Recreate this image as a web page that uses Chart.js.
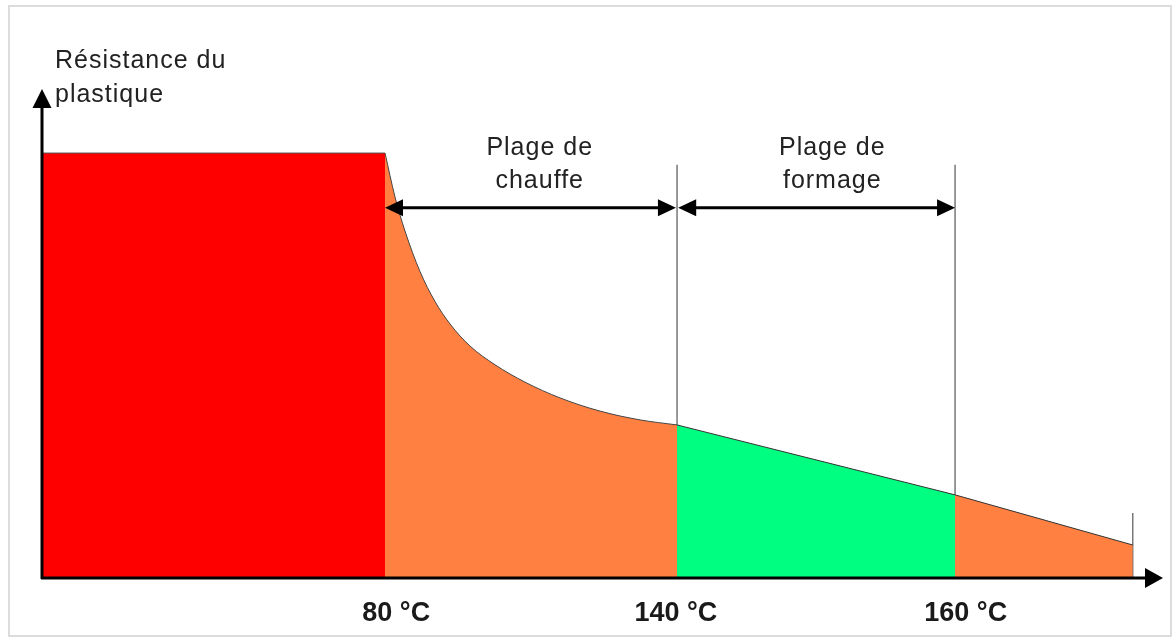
<!DOCTYPE html>
<html>
<head>
<meta charset="utf-8">
<script src="https://cdn.jsdelivr.net/npm/chart.js@4/dist/chart.umd.min.js"></script>
<style>
  html, body { margin: 0; padding: 0; background: #fff; }
  #wrap { width: 1176px; height: 641px; position: relative; }
</style>
</head>
<body>
<div id="wrap"><canvas id="c"></canvas></div>
<script>
// ---- data (abstract units: x 0..100 along the axis, y 0..100 resistance) ----
const redX = [0, 30.6];
const redY = [86.9, 86.9];
const heatX = [30.6, 31.49, 32.38, 33.72, 35.06, 36.40, 38.18, 40.41, 43.09, 46.21, 49.78, 53.35, 56.65];
const heatY = [86.9, 77.91, 70.96, 62.68, 56.54, 51.94, 47.44, 43.61, 40.05, 36.83, 34.13, 32.33, 31.3];
const formX = [56.65, 81.45];
const formY = [31.3, 17.0];
const tailX = [81.45, 97.3];
const tailY = [17.0, 6.75];
const markerX = [56.65, 81.45, 97.3];
const markerTop = [84.5, 84.5, 13.3];
const tickValues = [31.6, 56.55, 82.4];
const tickLabels = ['80 °C', '140 °C', '160 °C'];
const rangeFrom = [30.6, 56.75];
const rangeTo = [56.55, 81.45];
const rangeY = 75.7;
const rangeLabelX = [44.4, 70.5];
const rangeLabels = [['Plage de', 'chauffe'], ['Plage de', 'formage']];
const yAxisTitle = ['Résistance du', 'plastique'];

const pts = (xs, ys) => xs.map((x, i) => ({ x: x, y: ys[i] }));

const datasets = [
  { data: pts(redX, redY), fill: 'origin', backgroundColor: '#FF0000', borderColor: '#555', borderWidth: 1 },
  { data: pts(heatX, heatY), fill: 'origin', backgroundColor: '#FF8040', borderColor: '#444', borderWidth: 1, cubicInterpolationMode: 'monotone' },
  { data: pts(formX, formY), fill: 'origin', backgroundColor: '#00FF80', borderColor: '#333', borderWidth: 1 },
  { data: pts(tailX, tailY), fill: 'origin', backgroundColor: '#FF8040', borderColor: '#333', borderWidth: 1 }
];
markerX.forEach((mx, i) => {
  datasets.push({ data: [{ x: mx, y: 0 }, { x: mx, y: markerTop[i] }], fill: false, borderColor: '#777', borderWidth: 1.5 });
});

function arrowHead(ctx, tx, ty, dx, dy, len, half) {
  const px = -dy, py = dx;
  ctx.beginPath();
  ctx.moveTo(tx, ty);
  ctx.lineTo(tx - dx * len + px * half, ty - dy * len + py * half);
  ctx.lineTo(tx - dx * len - px * half, ty - dy * len - py * half);
  ctx.closePath();
  ctx.fill();
}

const decor = {
  id: 'decor',
  beforeDraw(chart) {
    const ctx = chart.ctx;
    ctx.save();
    ctx.strokeStyle = '#dcdcdc';
    ctx.lineWidth = 2;
    ctx.strokeRect(9, 6, 1162, 630);
    ctx.restore();
  },
  afterDatasetsDraw(chart) {
    const ctx = chart.ctx;
    const xs = chart.scales.x, ys = chart.scales.y;
    const x0 = xs.getPixelForValue(0), y0 = ys.getPixelForValue(0);
    const xEnd = xs.getPixelForValue(100), yEnd = ys.getPixelForValue(100);
    ctx.save();
    ctx.fillStyle = '#000';
    ctx.strokeStyle = '#000';
    ctx.lineWidth = 3;
    // axes
    ctx.beginPath();
    ctx.moveTo(x0, y0 + 1); ctx.lineTo(x0, yEnd + 16);
    ctx.moveTo(x0 - 1, y0); ctx.lineTo(xEnd - 16, y0);
    ctx.stroke();
    arrowHead(ctx, x0, yEnd, 0, -1, 19, 9.5);
    arrowHead(ctx, xEnd, y0, 1, 0, 18, 10);
    // range arrows
    const ay = ys.getPixelForValue(rangeY);
    rangeFrom.forEach((f, i) => {
      const a = xs.getPixelForValue(f), b = xs.getPixelForValue(rangeTo[i]);
      ctx.lineWidth = 3;
      ctx.beginPath();
      ctx.moveTo(a + 10, ay); ctx.lineTo(b - 10, ay);
      ctx.stroke();
      arrowHead(ctx, a, ay, -1, 0, 18, 8.5);
      arrowHead(ctx, b, ay, 1, 0, 18, 8.5);
    });
    // texts
    ctx.fillStyle = '#222';
    ctx.font = '25px "Liberation Sans", Arial, sans-serif';
    ctx.letterSpacing = '1px';
    ctx.textBaseline = 'alphabetic';
    ctx.textAlign = 'center';
    rangeLabels.forEach((lines, i) => {
      const cx = xs.getPixelForValue(rangeLabelX[i]);
      lines.forEach((t, j) => ctx.fillText(t, cx, ay - 53 + j * 33));
    });
    ctx.textAlign = 'left';
    yAxisTitle.forEach((t, j) => ctx.fillText(t, x0 + 13, yEnd - 21 + j * 34));
    ctx.restore();
  }
};

new Chart(document.getElementById('c'), {
  type: 'line',
  data: { datasets: datasets },
  options: {
    responsive: true,
    maintainAspectRatio: false,
    animation: false,
    events: [],
    layout: { padding: { left: 42, right: 13, top: 89, bottom: 0 } },
    elements: { point: { radius: 0 }, line: { tension: 0 } },
    plugins: { legend: { display: false }, tooltip: { enabled: false } },
    scales: {
      x: {
        type: 'linear', min: 0, max: 100,
        grid: { display: false, drawTicks: false },
        border: { display: false },
        afterBuildTicks: (s) => { s.ticks = tickValues.map(v => ({ value: v })); },
        afterFit: (s) => { s.height = 63; },
        ticks: {
          autoSkip: false, maxRotation: 0, minRotation: 0, padding: 19,
          color: '#1a1a1a',
          font: { family: '"Liberation Sans", Arial, sans-serif', size: 27, weight: 'bold' },
          callback: (v, i) => tickLabels[i]
        }
      },
      y: { type: 'linear', min: 0, max: 100, display: false }
    }
  },
  plugins: [decor]
});
</script>
</body>
</html>
